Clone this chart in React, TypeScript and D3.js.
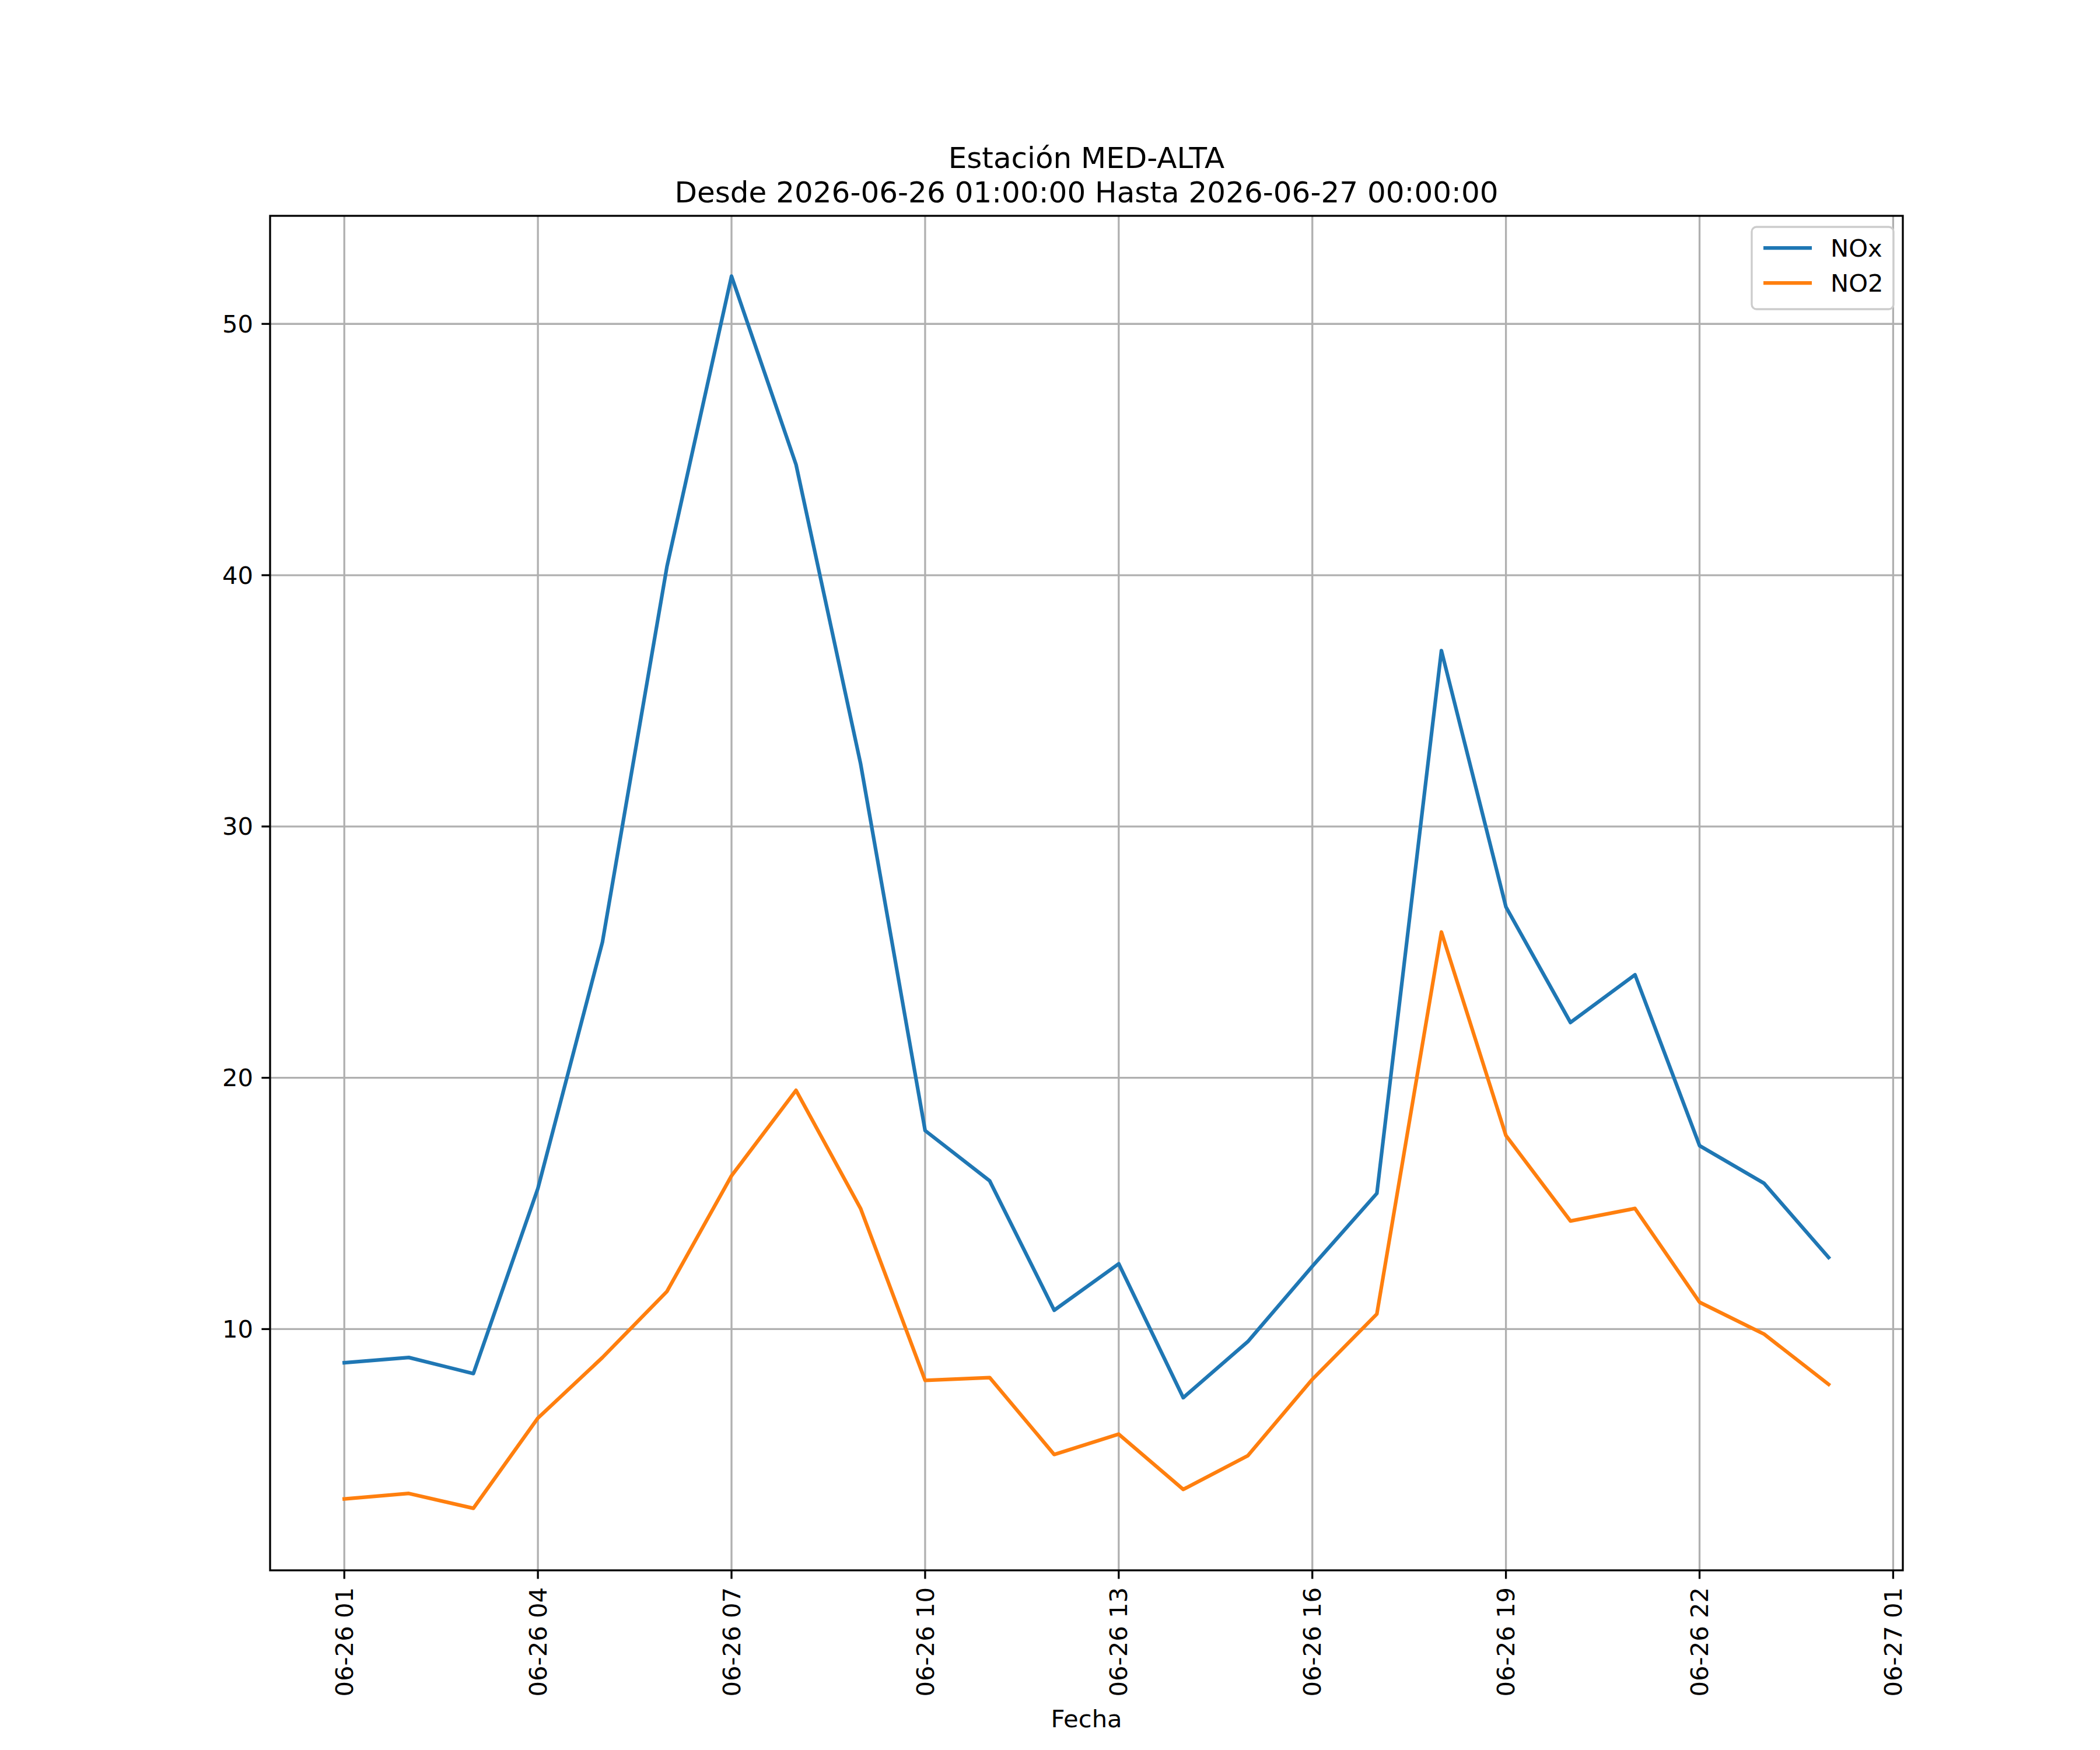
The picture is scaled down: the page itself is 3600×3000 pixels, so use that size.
import React from "react";
import * as d3 from "d3";

const hours = [1,2,3,4,5,6,7,8,9,10,11,12,13,14,15,16,17,18,19,20,21,22,23,24];
const noxValues = [8.66,8.87,8.23,15.6,25.4,40.35,51.9,44.4,32.5,17.9,15.9,10.75,12.6,7.27,9.5,12.5,15.4,37.0,26.8,22.2,24.1,17.3,15.8,12.85];
const no2Values = [3.24,3.46,2.87,6.46,8.87,11.5,16.1,19.5,14.8,7.96,8.07,5.01,5.82,3.62,4.96,8.0,10.6,25.8,17.7,14.3,14.8,11.07,9.8,7.8];
const xTicks = [1,4,7,10,13,16,19,22,25];
const xTickLabels = ["06-26 01","06-26 04","06-26 07","06-26 10","06-26 13","06-26 16","06-26 19","06-26 22","06-27 01"];
const yTicks = [10,20,30,40,50];
const series = [
  { name: "NOx", values: noxValues, color: "#1f77b4" },
  { name: "NO2", values: no2Values, color: "#ff7f0e" },
];

const W = 3600, H = 3000;
const L = 455, R = 3254, T = 362, B = 2684;
const font = "DejaVu Sans";

export default function App() {
  const x = d3.scaleLinear().domain([1 - 1.15, 24 + 1.15]).range([L, R]);
  const y = d3.scaleLinear().domain([0.4, 54.3]).range([B, T]);
  const line = d3.line<number>().x((_, i) => x(hours[i])).y((d) => y(d));
  return (
    <svg width={W} height={H} style={{ display: "block", background: "#fff" }} fontFamily={font}>
      {xTicks.map((t) => (
        <line key={"gx" + t} x1={x(t)} x2={x(t)} y1={T} y2={B} stroke="#b0b0b0" strokeWidth={3.3} />
      ))}
      {yTicks.map((t) => (
        <line key={"gy" + t} x1={L} x2={R} y1={y(t)} y2={y(t)} stroke="#b0b0b0" strokeWidth={3.3} />
      ))}
      {series.map((s) => (
        <path key={s.name} d={line(s.values) || ""} fill="none" stroke={s.color} strokeWidth={6.25} strokeLinejoin="round" strokeLinecap="square" />
      ))}
      <rect x={L} y={T} width={R - L} height={B - T} fill="none" stroke="#000" strokeWidth={3.3} />
      {xTicks.map((t, i) => (
        <g key={"tx" + t}>
          <line x1={x(t)} x2={x(t)} y1={B} y2={B + 14.6} stroke="#000" strokeWidth={3.3} />
          <text transform={`translate(${x(t)},${B + 29}) rotate(-90)`} textAnchor="end" dy="0.35em" fontSize={41.7}>
            {xTickLabels[i]}
          </text>
        </g>
      ))}
      {yTicks.map((t) => (
        <g key={"ty" + t}>
          <line x1={L - 14.6} x2={L} y1={y(t)} y2={y(t)} stroke="#000" strokeWidth={3.3} />
          <text x={L - 29} y={y(t)} textAnchor="end" dy="0.35em" fontSize={41.7}>{t}</text>
        </g>
      ))}
      <text x={(L + R) / 2} y={2953} textAnchor="middle" fontSize={41.7}>Fecha</text>
      <text x={(L + R) / 2} y={280} textAnchor="middle" fontSize={50}>Estación MED-ALTA</text>
      <text x={(L + R) / 2} y={339} textAnchor="middle" fontSize={50}>Desde 2026-06-26 01:00:00 Hasta 2026-06-27 00:00:00</text>
      <g>
        <rect x={2995} y={381} width={243} height={141} rx={8} fill="#fff" fillOpacity={0.8} stroke="#ccc" strokeWidth={3.3} />
        {series.map((s, i) => (
          <g key={"lg" + s.name}>
            <line x1={3015} x2={3098} y1={417 + i * 60} y2={417 + i * 60} stroke={s.color} strokeWidth={6.25} />
            <text x={3130} y={417 + i * 60} dy="0.35em" fontSize={41.7}>{s.name}</text>
          </g>
        ))}
      </g>
    </svg>
  );
}
